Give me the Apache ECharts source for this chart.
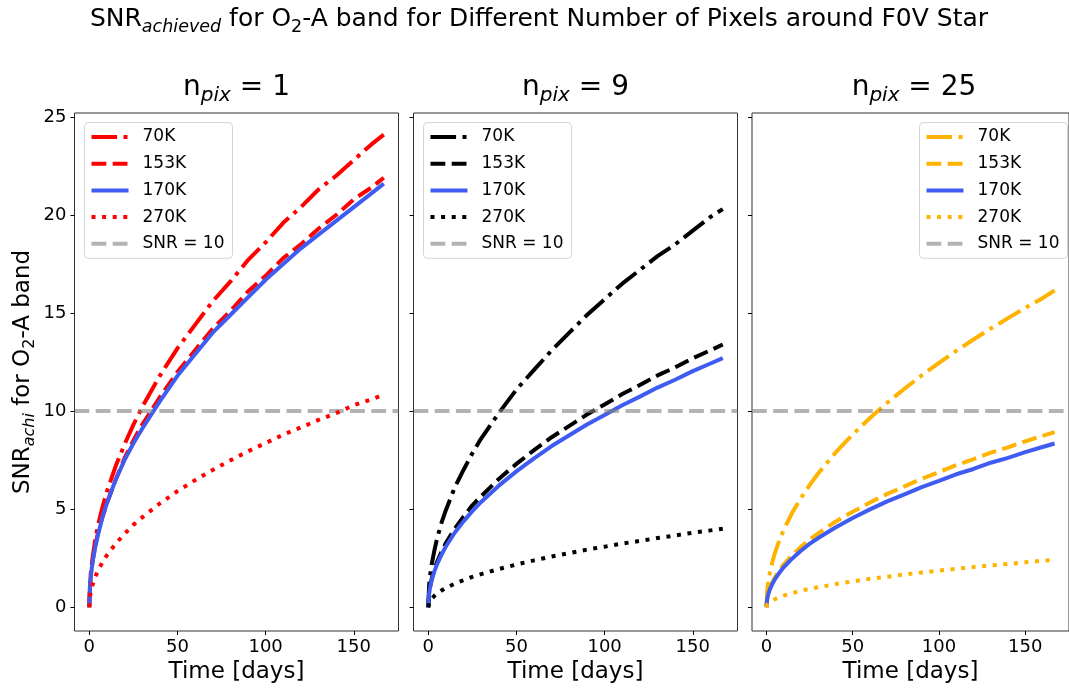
<!DOCTYPE html>
<html>
<head>
<meta charset="utf-8">
<script src="https://cdn.jsdelivr.net/npm/echarts@6/dist/echarts.min.js"></script>
<style>html,body{margin:0;padding:0;background:#fff}#c{width:1069px;height:689px}</style>
</head>
<body>
<div id="c"></div>
<script>
// ---- data ----
const times = [0, 0.5, 1, 2, 3.5, 5, 7.5, 10, 15, 20, 25, 30, 40, 50, 60, 70, 80, 90, 100, 110, 120, 130, 140, 150, 160, 167];
const xTicks = [0, 50, 100, 150];
const yTicks = [0, 5, 10, 15, 20, 25];
const legendNames = ['70K', '153K', '170K', '270K', 'SNR = 10'];
const panelTitles = ['1', '9', '25'];
const threshold = 10;

// n_pix = 1
const snr1_70K  = [0,1.3,1.86,2.6,3.5,4.2,5.1,5.9,7.2,8.3,9.3,10.2,11.8,13.2,14.4,15.6,16.6,17.7,18.6,19.6,20.4,21.3,22.0,22.8,23.6,24.1];
const snr1_153K = [0,1.2,1.7,2.4,3.2,3.8,4.6,5.3,6.5,7.6,8.5,9.3,10.7,12.0,13.1,14.2,15.1,16.1,16.9,17.8,18.5,19.3,20.0,20.8,21.4,21.9];
const snr1_170K = [0,1.18,1.67,2.36,3.1,3.7,4.6,5.3,6.5,7.5,8.35,9.1,10.5,11.8,12.9,14.0,14.9,15.8,16.7,17.5,18.3,19.0,19.7,20.4,21.1,21.6];
const snr1_270K = [0,0.59,0.84,1.18,1.57,1.87,2.3,2.65,3.24,3.74,4.2,4.58,5.29,5.92,6.48,7.0,7.49,7.95,8.37,8.8,9.17,9.55,9.9,10.3,10.6,10.85];
// n_pix = 9
const snr9_70K  = [0,1.1,1.57,2.2,2.9,3.5,4.3,4.95,6.1,7.0,7.85,8.6,9.9,11.1,12.1,13.1,14.0,14.9,15.7,16.5,17.2,17.9,18.5,19.2,19.9,20.3];
const snr9_153K = [0,0.73,1.03,1.46,1.93,2.31,2.83,3.27,4.0,4.62,5.2,5.66,6.54,7.31,8.01,8.67,9.25,9.83,10.34,10.87,11.33,11.82,12.23,12.7,13.1,13.4];
const snr9_170K = [0,0.69,0.98,1.39,1.83,2.19,2.68,3.1,3.8,4.38,4.9,5.37,6.2,6.93,7.59,8.22,8.77,9.32,9.8,10.3,10.74,11.2,11.6,12.04,12.43,12.7];
const snr9_270K = [0,0.22,0.31,0.44,0.58,0.69,0.85,0.98,1.2,1.38,1.55,1.69,1.95,2.18,2.39,2.59,2.76,2.94,3.09,3.25,3.38,3.53,3.66,3.8,3.92,4.0];
// n_pix = 25
const snr25_70K  = [0,0.88,1.25,1.76,2.33,2.79,3.41,3.94,4.83,5.57,6.23,6.82,7.88,8.81,9.65,10.43,11.14,11.82,12.46,13.07,13.65,14.21,14.74,15.26,15.76,16.15];
const snr25_153K = [0,0.49,0.69,0.97,1.29,1.54,1.89,2.18,2.67,3.08,3.45,3.77,4.36,4.87,5.34,5.78,6.16,6.55,6.89,7.25,7.55,7.88,8.15,8.46,8.74,8.93];
const snr25_170K = [0,0.46,0.64,0.91,1.2,1.44,1.76,2.04,2.49,2.88,3.23,3.53,4.07,4.55,4.99,5.4,5.76,6.13,6.44,6.78,7.05,7.37,7.62,7.91,8.17,8.35];
const snr25_270K = [0,0.13,0.19,0.26,0.35,0.42,0.51,0.59,0.72,0.84,0.94,1.02,1.18,1.32,1.45,1.56,1.67,1.77,1.87,1.96,2.05,2.13,2.21,2.29,2.37,2.42];

// ---- styles ----
const FONT = 'DejaVu Sans';
const BLUE = '#3f5cf2';
const panelColors = ['#ff0000', '#000000', '#ffb300'];
const dashDot = [25.6, 6.4, 4, 6.4];
const dashed = [14.8, 6.4];
const dotted = [4, 6.6];
const LW = 4;
const GRAY = 'rgba(128,128,128,0.6)';

const panels = [
  [snr1_70K, snr1_153K, snr1_170K, snr1_270K],
  [snr9_70K, snr9_153K, snr9_170K, snr9_270K],
  [snr25_70K, snr25_153K, snr25_170K, snr25_270K]
];
const gridLefts = [74.5, 413.5, 752];
const GRID_TOP = 113, GRID_H = 518, GRID_W = 324;

const grids = [], xAxes = [], yAxes = [], series = [], legends = [], titles = [];

function rich(base, sub, lhBase, lhSub) {
  return {
    b: {fontFamily: FONT, fontSize: base, fontWeight: 'normal', color: '#000', lineHeight: lhBase, verticalAlign: 'middle'},
    s: {fontFamily: FONT, fontSize: sub, fontWeight: 'normal', fontStyle: 'italic', color: '#000', lineHeight: lhSub, verticalAlign: 'bottom'},
    s2: {fontFamily: FONT, fontSize: sub, fontWeight: 'normal', color: '#000', lineHeight: lhSub, verticalAlign: 'bottom'}
  };
}

titles.push({
  text: '{b|SNR}{s|achieved}{b| for O}{s2|2}{b|-A band for Different Number of Pixels around F0V Star}',
  left: 539, top: 2, textAlign: 'center', padding: 0,
  textStyle: {fontWeight: 'normal', rich: rich(25, 17.5, 34, 19)}
});

panels.forEach((curves, i) => {
  const color = panelColors[i];
  grids.push({left: gridLefts[i], top: GRID_TOP, width: GRID_W, height: GRID_H,
    show: true, borderColor: '#333', borderWidth: 1, backgroundColor: 'transparent', containLabel: false});
  xAxes.push({
    type: 'value', gridIndex: i, min: -8.35, max: 175.35,
    axisLine: {show: false, onZero: false}, splitLine: {show: false},
    axisTick: {show: true, length: 4, inside: false, customValues: xTicks, lineStyle: {color: '#000', width: 1}},
    axisLabel: {customValues: xTicks, fontFamily: FONT, fontSize: 18, color: '#000', margin: 7},
    name: 'Time [days]', nameLocation: 'middle', nameGap: 30,
    nameTextStyle: {fontFamily: FONT, fontSize: 23, color: '#000'}
  });
  const y = {
    type: 'value', gridIndex: i, min: -1.21, max: 25.2,
    axisLine: {show: false, onZero: false}, splitLine: {show: false},
    axisTick: {show: true, length: 4, customValues: yTicks, lineStyle: {color: '#000', width: 1}},
    axisLabel: {show: i === 0, customValues: yTicks, fontFamily: FONT, fontSize: 18, color: '#000', margin: 8}
  };
  if (i === 0) {
    y.name = '{b|SNR}{s|achi}{b| for O}{s2|2}{b|-A band}';
    y.nameLocation = 'middle';
    y.nameGap = 37;
    y.nameTextStyle = {rich: rich(23, 16, 28, 17)};
  }
  yAxes.push(y);

  const styles = [
    {c: color, t: dashDot}, {c: color, t: dashed}, {c: BLUE, t: 'solid'}, {c: color, t: dotted}
  ];
  const names = [];
  curves.forEach((vals, k) => {
    const nm = legendNames[k] + '#' + i;
    names.push(nm);
    series.push({
      name: nm, type: 'line', xAxisIndex: i, yAxisIndex: i,
      data: times.map((t, j) => [t, vals[j]]),
      showSymbol: false, symbol: 'none', smooth: false,
      color: styles[k].c,
      lineStyle: {color: styles[k].c, width: LW, type: styles[k].t, cap: 'butt', join: 'round'},
      z: 2 + k, animation: false
    });
  });
  const tn = legendNames[4] + '#' + i;
  names.push(tn);
  series.push({
    name: tn, type: 'line', xAxisIndex: i, yAxisIndex: i, data: [],
    showSymbol: false, symbol: 'none',
    color: GRAY,
    lineStyle: {color: GRAY, width: LW, type: dashed},
    markLine: {silent: true, symbol: 'none', label: {show: false},
      lineStyle: {color: GRAY, width: LW, type: dashed},
      data: [{yAxis: threshold}], animation: false},
    z: 10, animation: false
  });
  const lg = {
    data: names, orient: 'vertical', top: 122.5,
    itemWidth: 37, itemHeight: 17, itemGap: 9.7,
    padding: [6, 8, 6, 5],
    backgroundColor: 'rgba(255,255,255,0.8)', borderColor: '#d4d4d4', borderWidth: 1, borderRadius: 4,
    itemStyle: {opacity: 0, borderWidth: 0},
    lineStyle: {width: LW},
    formatter: n => n.split('#')[0],
    textStyle: {fontFamily: FONT, fontSize: 17, color: '#000', padding: [0, 0, 0, 9]},
    selectedMode: false
  };
  if (i === 2) lg.right = 1.5; else lg.left = gridLefts[i] + 10;
  legends.push(lg);
  titles.push({
    text: '{b|n}{s|pix}{b| = ' + panelTitles[i] + '}',
    left: gridLefts[i] + GRID_W / 2, top: 70, textAlign: 'center', padding: 0,
    textStyle: {fontWeight: 'normal', rich: rich(28, 20, 36, 21)}
  });
});

const chart = echarts.init(document.getElementById('c'), null, {renderer: 'canvas'});
chart.setOption({
  animation: false,
  backgroundColor: '#fff',
  title: titles,
  legend: legends,
  grid: grids,
  xAxis: xAxes,
  yAxis: yAxes,
  series: series
});
</script>
</body>
</html>
